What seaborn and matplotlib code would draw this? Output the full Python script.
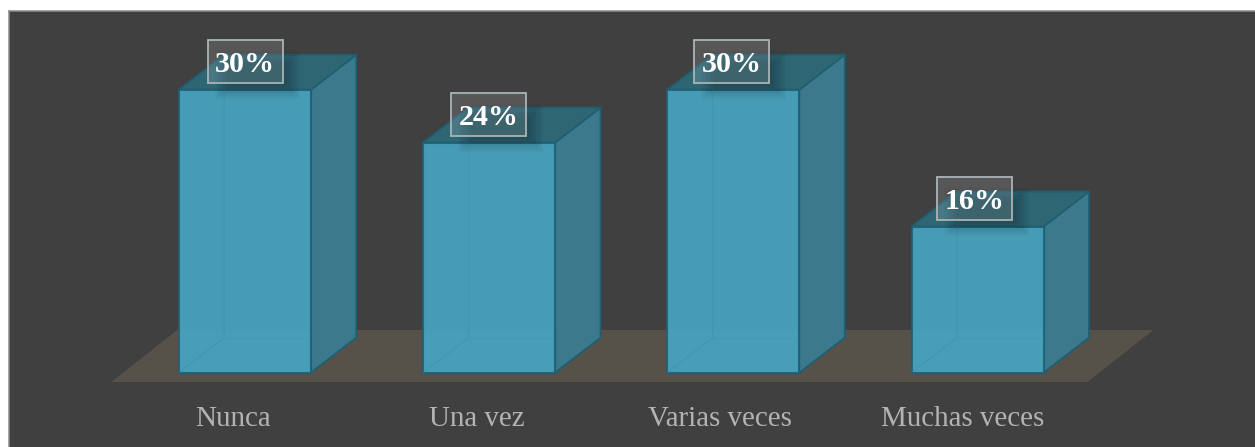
import matplotlib
matplotlib.use("Agg")
import matplotlib.pyplot as plt
from matplotlib.patches import Polygon, Rectangle
import pandas as pd
import seaborn as sns

categories = ["Nunca", "Una vez", "Varias veces", "Muchas veces"]
values = [30, 24.4, 30, 15.5]
value_labels = ["30%", "24%", "30%", "16%"]

W, H = 1255, 447
PX_X = 244.25         # pixels per category
PX_Y = 9.43           # pixels per percent
BASE = 372.7          # baseline pixel row
FIRST = 244.75        # first bar centre pixel
PANEL_L, PANEL_T = 9, 10.5
DX, DY = 45.5 / PX_X, 35 / PX_Y

sns.set_theme(style="dark")
plt.rcParams["font.family"] = ["Liberation Serif", "DejaVu Serif"]

fig = plt.figure(figsize=(W / 100, H / 100), dpi=100, facecolor="white")
ax = fig.add_axes([PANEL_L / W, 0, 1 - PANEL_L / W, 1 - PANEL_T / H])
ax.set_facecolor("#404040")

df = pd.DataFrame({"cat": categories, "val": values})
sns.barplot(data=df, x="cat", y="val", color="#47a9c8", saturation=1, width=132 / PX_X,
            alpha=0.87, edgecolor="#1f5f73", linewidth=1.5, zorder=5, ax=ax)

ax.set_xlim((PANEL_L - FIRST) / PX_X, (W - FIRST) / PX_X)
ax.set_ylim(-(H - BASE) / PX_Y, (BASE - PANEL_T) / PX_Y)

bars = list(ax.patches)

# floor, derived from the outer bars
x0 = bars[0].get_x()
x1 = bars[-1].get_x() + bars[-1].get_width()
fy0, fy1 = -9.3 / PX_Y, 42.7 / PX_Y
ax.add_patch(Polygon([(x0 - 67.5 / PX_X, fy0), (x1 + 44 / PX_X, fy0),
                      (x1 + 110 / PX_X, fy1), (x0 - 1.5 / PX_X, fy1)],
                     closed=True, facecolor="#565249", edgecolor="none", zorder=1))

for i, b in enumerate(bars):
    l, w, h = b.get_x(), b.get_width(), b.get_height()
    r = l + w
    # right side and top faces
    ax.add_patch(Polygon([(r, 0), (r + DX, DY), (r + DX, h + DY), (r, h)], closed=True,
                         facecolor="#3b7a8c", edgecolor="#1f5f73", linewidth=1.3, zorder=3))
    ax.add_patch(Polygon([(l, h), (l + DX, h + DY), (r + DX, h + DY), (r, h)], closed=True,
                         facecolor="#2f6674", edgecolor="#1f5f73", linewidth=1.3, zorder=3))
    # hidden back edges seen through the translucent front
    ax.plot([l, l + DX, l + DX], [0, DY, h], color="#3c8ba4", lw=1, alpha=0.3, zorder=6)
    ax.plot([l + DX, r], [DY, DY], color="#3c8ba4", lw=1, alpha=0.12, zorder=6)

    # value label
    cx = (245.3 + 243.1 * i - FIRST) / PX_X
    cy = h + 28.2 / PX_Y
    bw, bh = 75.5 / PX_X, 42.5 / PX_Y
    # soft shadow of the label
    for k in range(9):
        g = k * 1.7
        ax.add_patch(Rectangle((cx - bw / 2 + (21 - g) / PX_X, cy - bh / 2 - (3 + g) / PX_Y),
                               (58 + 2 * g) / PX_X, (22 + 2 * g) / PX_Y,
                               facecolor="black", edgecolor="none", alpha=0.022, zorder=7))
    ax.add_patch(Rectangle((cx - bw / 2, cy - bh / 2), bw, bh, facecolor="white", alpha=0.12,
                           edgecolor="none", zorder=8))
    ax.add_patch(Rectangle((cx - bw / 2, cy - bh / 2), bw, bh, facecolor="none",
                           edgecolor="#aab4b6", linewidth=1.3, zorder=9))
    ax.text(cx, cy, value_labels[i], color="white", fontsize=21.6, fontweight="bold",
            ha="center", va="center_baseline", zorder=10)

# category labels
ax.set_xticks([(233.5 + 243 * i - FIRST) / PX_X for i in range(len(categories))], categories)
ax.set_yticks([])
ax.set_xlabel("")
ax.set_ylabel("")
ax.tick_params(axis="x", length=0, pad=-29.5, labelsize=20.9, labelcolor="#b3b3b3")
ax.grid(False)

for side in ("right", "bottom"):
    ax.spines[side].set_visible(False)
for side in ("left", "top"):
    ax.spines[side].set_visible(True)
    ax.spines[side].set_color("#8c8c8c")
    ax.spines[side].set_linewidth(1.1)

fig.savefig("out.png", dpi=100, facecolor="white")
